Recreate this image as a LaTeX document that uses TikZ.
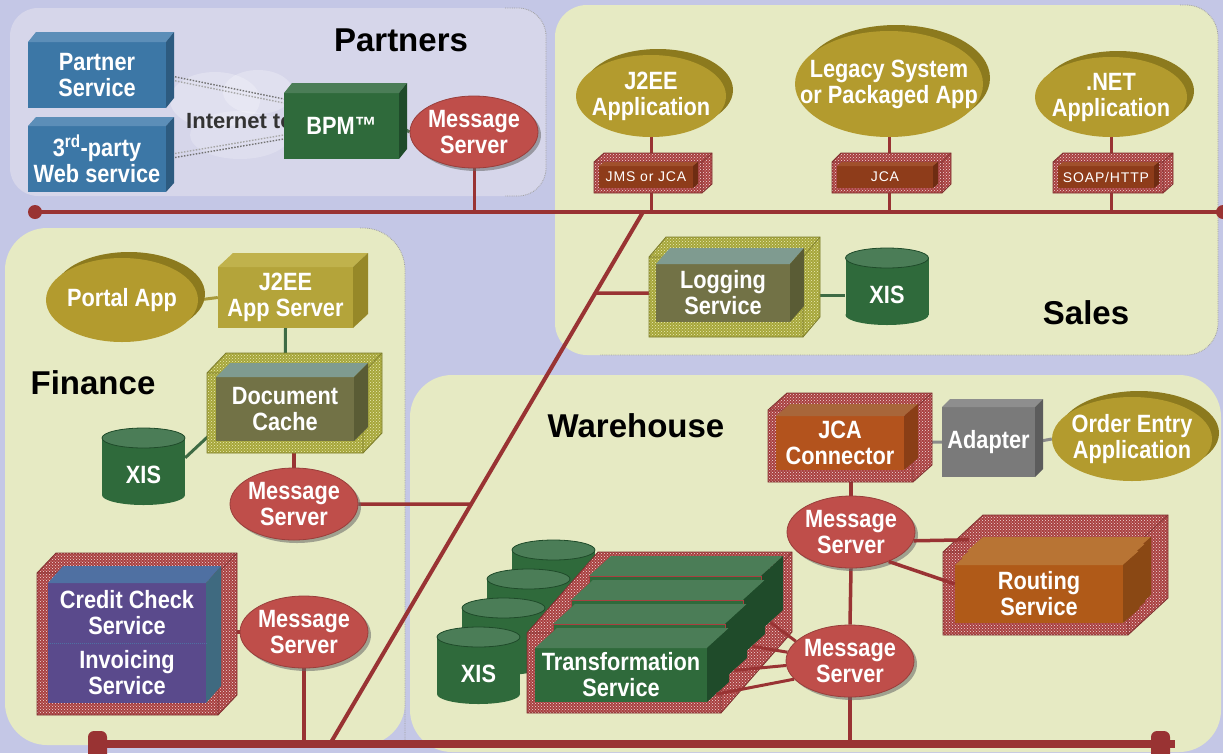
\documentclass[tikz,border=0pt]{standalone}
\usepackage{fontspec}
\setmainfont{Liberation Sans}
\newfontfamily\lblfont[FakeStretch=0.87]{Liberation Sans}
\newfontfamily\tagfont[LetterSpace=6]{Liberation Sans}
\usetikzlibrary{shapes.geometric,patterns,shadows,calc}
\pgfdeclarelayer{regions}
\pgfdeclarelayer{wires}
\pgfsetlayers{regions,wires,main}

\definecolor{bgblue}{HTML}{C4C7E6}
\definecolor{partnerbg}{HTML}{D6D6EA}
\definecolor{cream}{HTML}{E6EAC3}
\definecolor{busred}{HTML}{993333}
\definecolor{msred}{HTML}{BF4E4A}
\definecolor{gold}{HTML}{B39B2E}
\definecolor{golddark}{HTML}{8C7A1E}
\definecolor{blueF}{HTML}{3C77A6}\definecolor{blueT}{HTML}{5C8EB8}\definecolor{blueS}{HTML}{2D5B80}
\definecolor{greenF}{HTML}{2F6A3B}\definecolor{greenT}{HTML}{4B7D57}\definecolor{greenS}{HTML}{1F4B2A}
\definecolor{oliveF}{HTML}{727246}\definecolor{oliveT}{HTML}{7F9B90}\definecolor{oliveS}{HTML}{5A5C35}
\definecolor{purpleF}{HTML}{5A4A8C}\definecolor{purpleT}{HTML}{4F70A2}\definecolor{purpleS}{HTML}{3F6A80}
\definecolor{brownF}{HTML}{8E3C1A}\definecolor{brownT}{HTML}{A0502C}\definecolor{brownS}{HTML}{6E2C12}
\definecolor{orangeF}{HTML}{B3531D}\definecolor{orangeT}{HTML}{A8663A}\definecolor{orangeS}{HTML}{8A3E16}
\definecolor{routF}{HTML}{B05A18}\definecolor{routT}{HTML}{B87434}\definecolor{routS}{HTML}{8A4814}
\definecolor{goldF}{HTML}{B4A43A}\definecolor{goldT}{HTML}{C0B24C}\definecolor{goldS}{HTML}{968828}
\definecolor{grayF}{HTML}{7A7A7A}\definecolor{grayT}{HTML}{8E8E8E}\definecolor{grayS}{HTML}{5C5C5C}
\definecolor{hatchred}{HTML}{A84040}\definecolor{hatchdot}{HTML}{F2DCDC}
\definecolor{hatchol}{HTML}{A6A63A}\definecolor{hatcholdot}{HTML}{ECECB8}
\definecolor{wiregreen}{HTML}{3E6B44}
\definecolor{goldline}{HTML}{A89A3A}
\definecolor{grayline}{HTML}{8A8A8A}

% 3-D box: x, y (top-left of front face), width, height, depth dx, depth dy, front, top, side
\newcommand{\isobox}[9]{%
  \fill[#7] (#1,#2) rectangle ({#1+#3},{#2+#4});
  \fill[#8] (#1,#2) -- ({#1+#5},{#2-#6}) -- ({#1+#3+#5},{#2-#6}) -- ({#1+#3},#2) -- cycle;
  \fill[#9] ({#1+#3},#2) -- ({#1+#3+#5},{#2-#6}) -- ({#1+#3+#5},{#2+#4-#6}) -- ({#1+#3},{#2+#4}) -- cycle;
}
% hatched frame around a box: x, y, width, height, dx, dy, base colour, dot colour
\newcommand{\hatchframe}[8]{%
  \path[fill=#7, postaction={pattern=crosshatch dots, pattern color=#8}]
    (#1,{#2+#4}) -- (#1,#2) -- ({#1+#5},{#2-#6}) -- ({#1+#3+#5},{#2-#6})
    -- ({#1+#3+#5},{#2+#4-#6}) -- ({#1+#3},{#2+#4}) -- cycle;
  \draw[#7!75!black, line width=0.8pt]
    (#1,{#2+#4}) -- (#1,#2) -- ({#1+#5},{#2-#6}) -- ({#1+#3+#5},{#2-#6})
    -- ({#1+#3+#5},{#2+#4-#6}) -- ({#1+#3},{#2+#4}) -- cycle;
  \draw[#7!75!black, line width=0.6pt]
    (#1,#2) -- ({#1+#3},#2) -- ({#1+#3},{#2+#4}) ({#1+#3},#2) -- ({#1+#3+#5},{#2-#6});
}
% database cylinder: name, centre x, top y, label
\newcommand{\xiscyl}[4]{%
  \fill[greenF] ({#2-41.5},{#3+10}) rectangle ({#2+41.5},{#3+67});
  \fill[greenF] (#2,{#3+67}) ellipse [x radius=41.5, y radius=10];
  \fill[greenT, draw=greenS, line width=0.8pt] (#2,{#3+10}) ellipse [x radius=41.5, y radius=10];
  \node[lbl, face={83}{60}] (#1) at (#2,{#3+47}) {#4};
}

\tikzset{
  lbl/.style={font=\lblfont\bfseries\fontsize{25}{26}\selectfont, text=white, align=center, inner sep=0pt},
  face/.style 2 args={minimum width=#1pt, minimum height=#2pt, inner sep=0pt},
  head/.style={font=\bfseries\fontsize{33}{36}\selectfont, text=black, inner sep=0pt},
  tag/.style={font=\tagfont\fontsize{14}{15}\selectfont, text=white, inner sep=0pt},
  msg/.style={ellipse, fill=msred, draw=msred!80!black, line width=0.8pt, inner sep=0pt,
    minimum width=128pt, minimum height=72pt,
    drop shadow={shadow xshift=3pt, shadow yshift=-3pt, fill=gray!80!black, opacity=0.55}},
  app/.style={ellipse, fill=gold, inner sep=0pt,
    drop shadow={shadow xshift=7pt, shadow yshift=6pt, fill=golddark, opacity=1}},
  wire/.style={draw=busred, line width=3.5pt},
  gwire/.style={draw=wiregreen, line width=3pt},
  netline/.style={draw=black!55, line width=1.4pt, dash pattern=on 1.5pt off 1.5pt},
  edge/.style={draw=gray!75, line width=0.8pt, densely dotted},
  boxedge/.style={draw=hatchred, line width=0.7pt},
  inettext/.style={font=\bfseries\fontsize{22}{24}\selectfont, text=black!80, inner sep=0pt},
}

\begin{document}
\begin{tikzpicture}[x=1pt,y=-1pt]
\useasboundingbox (0,0) rectangle (1223,753);

% ---------- domains ----------
\begin{pgfonlayer}{regions}
  \fill[bgblue] (0,0) rectangle (1223,753);
  \fill[partnerbg, rounded corners=28pt] (10,8) rectangle (546,196);
  \fill[cream, rounded corners=32pt] (555,5) rectangle (1218,355);
  \fill[cream, rounded corners=42pt] (5,228) rectangle (405,745);
  \fill[cream, rounded corners=42pt] (410,375) rectangle (1221,752);
  \draw[edge, rounded corners=28pt] (505,8) -- (546,8) -- (546,196) -- (505,196);
  \draw[edge, rounded corners=32pt] (1180,5) -- (1218,5) -- (1218,355) -- (600,355);
  \draw[edge, rounded corners=42pt] (360,228) -- (405,228) -- (405,745);
  % faint internet cloud
  \fill[white, opacity=0.25] (215,100) ellipse [x radius=45, y radius=28];
  \fill[white, opacity=0.25] (258,92) ellipse [x radius=35, y radius=22];
  \fill[white, opacity=0.2] (240,135) ellipse [x radius=50, y radius=24];
\end{pgfonlayer}

% ---------- Partners ----------
\node[head] (hPartners) at (401,40) {Partners};
\node[inettext, anchor=west] (inet) at (186,121) {Internet to};
\isobox{28}{42}{138}{66}{8}{10}{blueF}{blueT}{blueS}
\node[lbl, face={138}{66}] (partner) at (97,75) {Partner\\Service};
\isobox{28}{126}{138}{66}{8}{9}{blueF}{blueT}{blueS}
\node[lbl, face={138}{66}] (third) at (97,159) {3\textsuperscript{rd}-party\\Web service};
\isobox{284}{93}{115}{66}{8}{10}{greenF}{greenT}{greenS}
\node[lbl, face={115}{66}] (bpm) at (341.5,126) {BPM™};
\node[msg] (msP) at (474,132) {};
\node[lbl] (msPt) at (msP) {Message\\Server};

% ---------- Sales ----------
\node[head] (hSales) at (1086,313) {Sales};
\node[app, minimum width=150pt, minimum height=82pt] (j2eeA) at (651,96) {};
\node[lbl] (j2eeAt) at (j2eeA) {J2EE\\Application};
\node[app, minimum width=188pt, minimum height=106pt] (legacy) at (889,84) {};
\node[lbl] (legacyt) at (legacy) {Legacy System\\or Packaged App};
\node[app, minimum width=152pt, minimum height=80pt] (net) at (1111,97) {};
\node[lbl] (nett) at (net) {.NET\\Application};

\hatchframe{594}{162}{108}{31}{10}{9}{hatchred}{hatchdot}
\isobox{599}{166}{94}{22}{5}{4}{brownF}{brownT}{brownS}
\node[tag, face={94}{22}] (jmsjca) at (646,177) {JMS or JCA};
\hatchframe{832}{162}{110}{31}{9}{9}{hatchred}{hatchdot}
\isobox{837}{166}{96}{22}{5}{4}{brownF}{brownT}{brownS}
\node[tag, face={96}{22}] (jcatag) at (885,177) {JCA};
\hatchframe{1053}{162}{110}{31}{10}{9}{hatchred}{hatchdot}
\isobox{1058}{166}{96}{22}{5}{4}{brownF}{brownT}{brownS}
\node[tag, face={96}{22}] (soap) at (1106,177) {SOAP/HTTP};

\hatchframe{649}{257}{154}{80}{17}{20}{hatchol}{hatcholdot}
\isobox{656}{264}{134}{58}{14}{16}{oliveF}{oliveT}{oliveS}
\node[lbl, face={134}{58}] (logging) at (723,293) {Logging\\Service};
\xiscyl{xisS}{887}{248}{XIS}

% ---------- Finance ----------
\node[head] (hFin) at (93,383) {Finance};
\node[app, minimum width=152pt, minimum height=84pt] (portal) at (122,300) {};
\node[lbl] (portalt) at (portal) {Portal App};
\isobox{218}{267}{135}{61}{15}{14}{goldF}{goldT}{goldS}
\node[lbl, face={135}{61}] (appsrv) at (285.5,297.5) {J2EE\\App Server};
\hatchframe{207}{373}{156}{80}{19}{20}{hatchol}{hatcholdot}
\isobox{216}{377}{138}{64}{14}{14}{oliveF}{oliveT}{oliveS}
\node[lbl, face={138}{64}] (doccache) at (285,409) {Document\\Cache};
\xiscyl{xisF}{143.5}{428}{XIS}
\node[msg] (msF) at (294,504) {};
\node[lbl] (msFt) at (msF) {Message\\Server};
\hatchframe{37}{573}{181}{142}{19}{20}{hatchred}{hatchdot}
\isobox{48}{583}{158}{120}{15}{17}{purpleF}{purpleT}{purpleS}
\node[lbl, face={158}{60}] (credit) at (127,613) {Credit Check\\Service};
\node[lbl, face={158}{60}] (invoice) at (127,673) {Invoicing\\Service};
\draw[purpleT, line width=1pt, densely dotted] (credit.south west) -- (credit.south east);
\node[msg] (msF2) at (304,632) {};
\node[lbl] (msF2t) at (msF2) {Message\\Server};

% ---------- Warehouse ----------
\node[head] (hWare) at (636,426) {Warehouse};
\hatchframe{768}{410}{145}{72}{19}{17}{hatchred}{hatchdot}
\isobox{776}{416}{128}{54}{14}{12}{orangeF}{orangeT}{orangeS}
\node[lbl, face={128}{54}] (jca) at (840,443) {JCA\\Connector};
\isobox{942}{407}{93}{70}{8}{8}{grayF}{grayT}{grayS}
\node[lbl, face={93}{70}] (adapter) at (988.5,442) {Adapter};
\node[app, minimum width=160pt, minimum height=84pt] (order) at (1132,439) {};
\node[lbl] (ordert) at (order) {Order Entry\\Application};
\node[msg] (msW1) at (851,532) {};
\node[lbl] (msW1t) at (msW1) {Message\\Server};

\hatchframe{943}{552}{185}{83}{40}{37}{hatchred}{hatchdot}
\isobox{967}{551}{168}{58}{16}{14}{routF}{routT}{routS}
\draw[boxedge] (967,551) rectangle (1135,609);
\isobox{961}{558}{168}{58}{16}{14}{routF}{routT}{routS}
\draw[boxedge] (961,558) rectangle (1129,616);
\isobox{955}{565}{168}{58}{16}{14}{routF}{routT}{routS}
\node[lbl, face={168}{58}] (routing) at (1039,594) {Routing\\Service};

\node[msg] (msW2) at (850,661) {};
\node[lbl] (msW2t) at (msW2) {Message\\Server};

% stacked repositories
\xiscyl{xisW3}{553.5}{540}{}
\xiscyl{xisW2}{528.5}{569}{}
\xiscyl{xisW1}{503.5}{598}{}
\xiscyl{xisW0}{478.5}{627}{XIS}

% stacked transformation engines
\hatchframe{527}{633}{194}{80}{71}{81}{hatchred}{hatchdot}
\isobox{589}{576}{172}{54}{22}{20}{greenF}{greenT}{greenS}
\node[face={172}{54}, boxedge] (tr3) at (675,603) {};
\isobox{571}{600}{172}{54}{22}{20}{greenF}{greenT}{greenS}
\node[face={172}{54}, boxedge] (tr2) at (657,627) {};
\isobox{553}{624}{172}{54}{22}{20}{greenF}{greenT}{greenS}
\node[face={172}{54}, boxedge] (tr1) at (639,651) {};
\isobox{535}{648}{172}{54}{22}{20}{greenF}{greenT}{greenS}
\node[lbl, face={172}{54}] (trans) at (621,675) {Transformation\\Service};

% ---------- connectors ----------
\begin{pgfonlayer}{wires}
  \coordinate (busTL) at (35,212);
  \coordinate (busTR) at (1223,212);
  \coordinate (busBL) at (88,744);
  \coordinate (busBR) at (1175,744);
  \coordinate (diagT) at (643,212);
  \coordinate (diagB) at (330,744);
  \coordinate (dLog) at ($(diagT)!0.1523!(diagB)$);
  \coordinate (dFin) at ($(diagT)!0.5489!(diagB)$);

  \draw[wire] (busTL) -- (busTR);
  \draw[busred, line width=8pt] (busBL) -- (busBR);
  \draw[wire, line width=4pt] (diagT) -- (diagB);

  % partners
  \draw[netline] (partner.east) -- ($(bpm.west)+(0,-27)$);
  \draw[netline, draw=gray!70] ($(partner.east)+(0,4)$) -- ($(bpm.west)+(0,-23)$);
  \draw[netline] (third.east) -- ($(bpm.west)+(0,13)$);
  \draw[netline, draw=gray!70] ($(third.east)+(0,-4)$) -- ($(bpm.west)+(0,9)$);
  \draw[gwire, draw=wiregreen!70!gray] (bpm.east) -- (msP.west);
  \draw[wire, line width=3pt] (msP.south) -- (msP.south |- busTL);

  % sales
  \draw[wire, line width=3pt] (j2eeA.south) -- (j2eeA.south |- busTL);
  \draw[wire, line width=3pt] (legacy.south) -- (legacy.south |- busTL);
  \draw[wire, line width=3pt] (net.south) -- (net.south |- busTL);
  \draw[wire] (dLog) -- (logging.west);
  \draw[gwire] (xisS.west -| logging.east) -- (xisS.west);

  % finance
  \draw[gwire, draw=goldline] (portal.east) -- (appsrv.west);
  \draw[gwire] (appsrv.south) -- (doccache.north);
  \draw[gwire] ($(xisF.north east)+(0,13)$) -- ($(doccache.south west)+(0,-12)$);
  \draw[wire] (msF.north |- doccache.south) -- (msF.north);
  \draw[wire] (msF.east) -- (dFin);
  \draw[wire] (msF2.west -| credit.east) -- (msF2.west);
  \draw[wire] (msF2.south) -- (msF2.south |- busBL);

  % warehouse
  \draw[gwire, draw=grayline] (jca.east) -- (adapter.west);
  \draw[gwire, draw=grayline] (adapter.east) -- (order.west);
  \draw[wire] (msW1.north |- jca.south) -- (msW1.north);
  \draw[wire] (msW1.south) -- (msW2.north);
  \draw[wire] (msW2.south) -- (msW2.south |- busBL);
\end{pgfonlayer}

\draw[wire] (msW1.-8) -- ($(routing.north west)+(14,-25)$);
\draw[wire] (msW1.-38) -- ($(routing.west)+(0,-10)$);
\draw[wire, line width=3pt] ($(tr3.south east)+(9,-8)$) -- (msW2.160);
\draw[wire, line width=3pt] ($(tr2.south east)+(9,-8)$) -- (msW2.172);
\draw[wire, line width=3pt] ($(tr1.south east)+(9,-8)$) -- (msW2.184);
\draw[wire, line width=3pt] ($(trans.south east)+(9,-8)$) -- (msW2.198);

% bus terminators
\fill[busred] (busTL) circle [radius=7];
\fill[busred] (busTR) circle [radius=7];
\fill[busred, rounded corners=6pt] (88,731) rectangle (107,760);
\fill[busred, rounded corners=6pt] (1151,731) rectangle (1170,760);
\end{tikzpicture}
\end{document}
